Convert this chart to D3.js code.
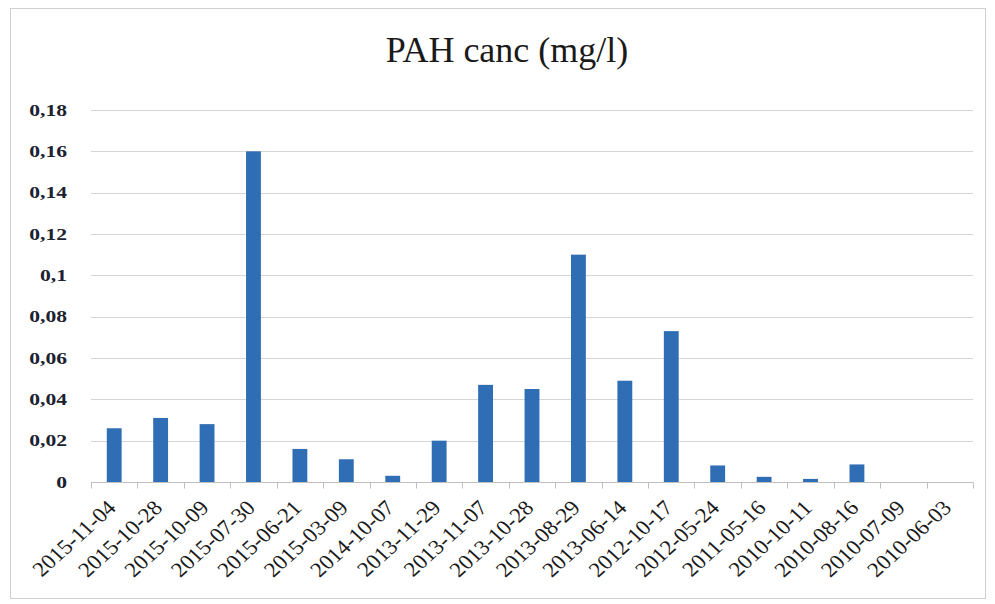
<!DOCTYPE html>
<html><head><meta charset="utf-8">
<script src="https://cdn.jsdelivr.net/npm/d3@7"></script>
<style>body{margin:0;background:#fff;}svg{display:block;}</style>
</head><body>
<svg id="c" width="995" height="604"></svg>
<script>
const title = "PAH canc (mg/l)";
const categories = ["2015-11-04","2015-10-28","2015-10-09","2015-07-30","2015-06-21","2015-03-09","2014-10-07","2013-11-29","2013-11-07","2013-10-28","2013-08-29","2013-06-14","2012-10-17","2012-05-24","2011-05-16","2010-10-11","2010-08-16","2010-07-09","2010-06-03"];
const values = [0.026,0.031,0.028,0.160,0.016,0.011,0.003,0.020,0.047,0.045,0.110,0.049,0.073,0.008,0.0025,0.0015,0.0085,0,0];
const yTicks = [0,0.02,0.04,0.06,0.08,0.1,0.12,0.14,0.16,0.18];

(function(){
const svg = d3.select("#c");
const font = "'Liberation Serif','DejaVu Serif',serif";
const pLeft = 91, pRight = 973, pTop = 110, pBottom = 482;

svg.append("rect").attr("x",10.5).attr("y",8.5).attr("width",975).attr("height",590)
  .attr("fill","#fff").attr("stroke","#d0d0d0");

const x = d3.scaleBand().domain(categories).range([pLeft,pRight]).paddingInner(0.68).paddingOuter(0.34);
const y = d3.scaleLinear().domain([0,0.18]).range([pBottom,pTop]);

svg.append("text").attr("x",507).attr("y",62).attr("text-anchor","middle")
  .attr("font-family",font).attr("font-size",36).attr("fill","#1a1a1a").text(title);

svg.append("g").selectAll("line").data(yTicks.filter(d=>d>0)).join("line")
  .attr("x1",pLeft).attr("x2",pRight).attr("y1",d=>Math.round(y(d))+0.5).attr("y2",d=>Math.round(y(d))+0.5)
  .attr("stroke","#d6d6d6").attr("stroke-width",1);

const fmt = d => String(d).replace(".",",");
svg.append("g").selectAll("text").data(yTicks).join("text")
  .attr("transform",d=>`translate(67,${y(d)+5.5}) scale(1.35,1)`).attr("text-anchor","end")
  .attr("font-family",font).attr("font-size",16).attr("font-weight","bold").attr("fill","#1c2230")
  .text(fmt);

svg.append("g").selectAll("rect").data(values).join("rect")
  .attr("x",(d,i)=>x(categories[i])).attr("width",x.bandwidth())
  .attr("y",d=>y(d)).attr("height",d=>pBottom-y(d))
  .attr("fill","#2f6db4");

const xAxis = svg.append("g").attr("transform",`translate(0,${pBottom+0.5})`);
xAxis.append("line").attr("x1",pLeft).attr("x2",pRight).attr("stroke","#bfbfbf");
const step = x.step();
xAxis.selectAll("line.t").data(d3.range(categories.length+1)).join("line").attr("class","t")
  .attr("x1",i=>Math.round(pLeft + i*step)+0.5).attr("x2",i=>Math.round(pLeft + i*step)+0.5)
  .attr("y1",0).attr("y2",6).attr("stroke","#bfbfbf");

svg.append("g").selectAll("text").data(categories).join("text")
  .attr("transform",d=>`translate(${x(d)+x.bandwidth()/2+3},${pBottom+27}) scale(1.1,1) rotate(-45)`)
  .attr("text-anchor","end")
  .attr("font-family",font).attr("font-size",21).attr("fill","#1a1a1a")
  .text(d=>d);
})();
</script>
</body></html>
